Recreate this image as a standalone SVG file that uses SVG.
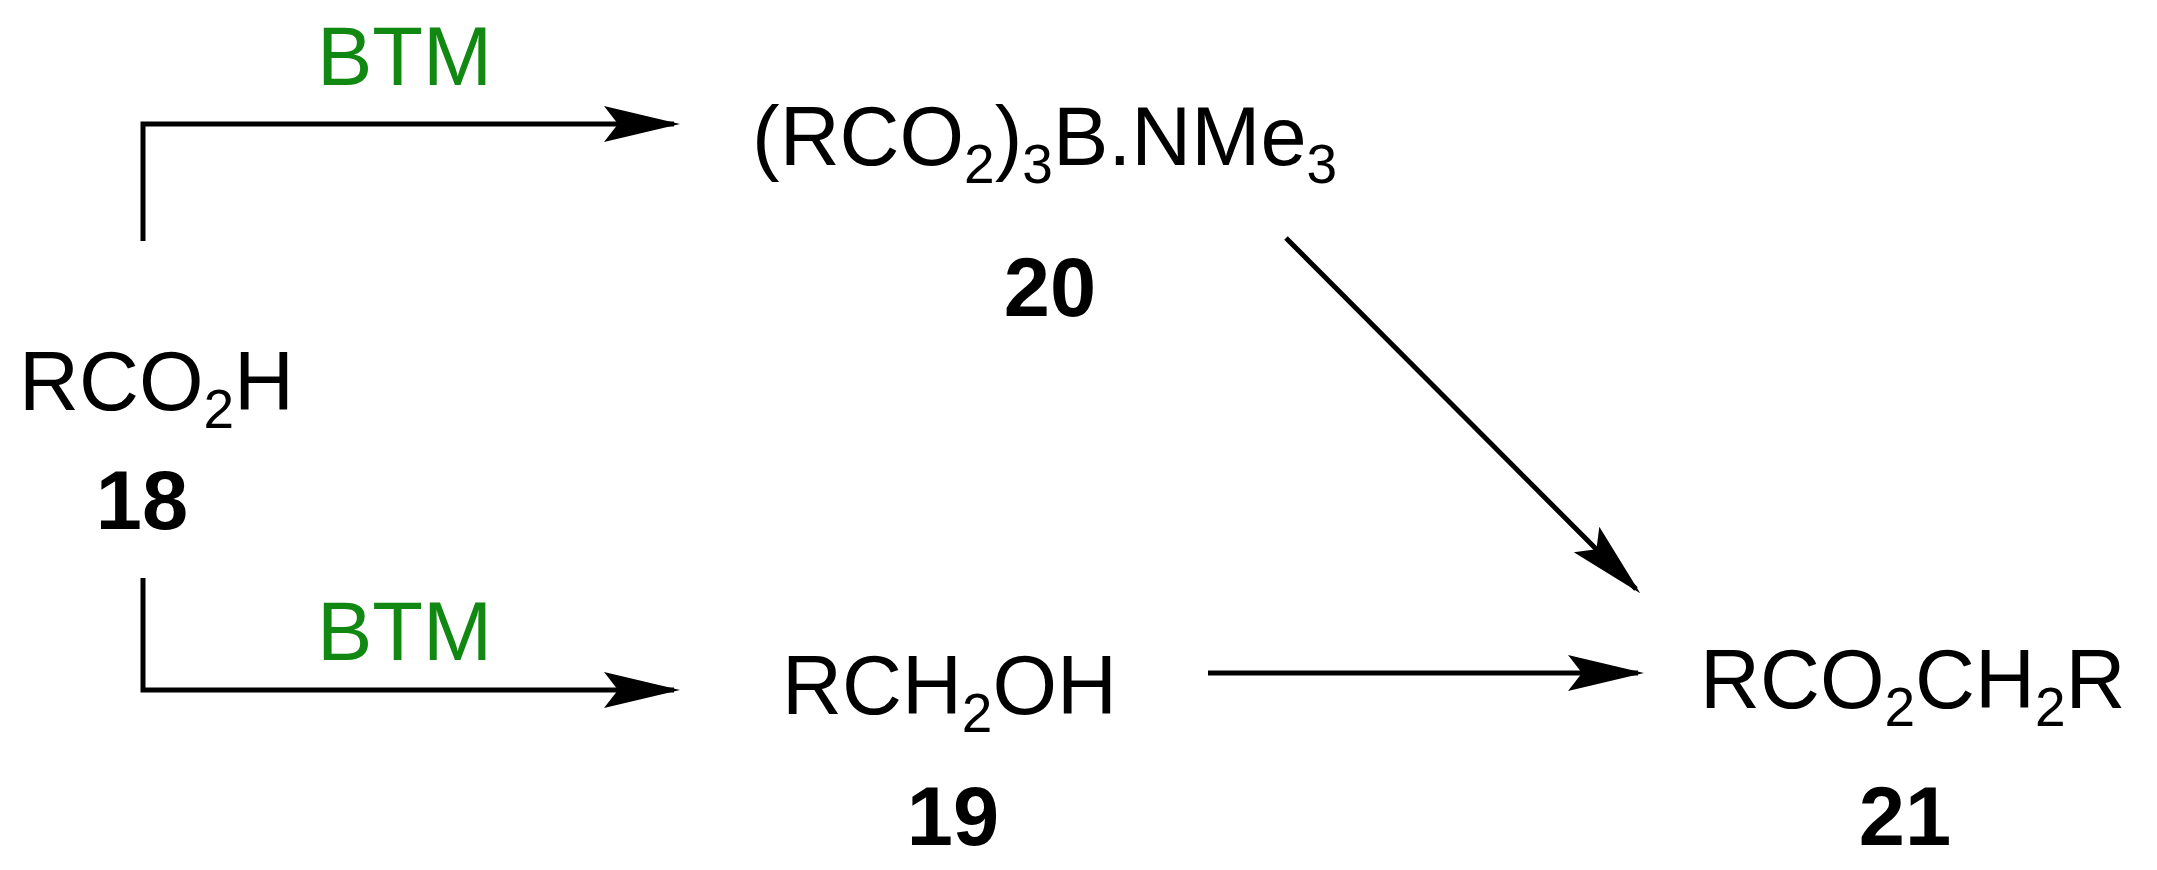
<svg xmlns="http://www.w3.org/2000/svg" width="2157" height="870" viewBox="0 0 2157 870">
<style>
text{font-family:"Liberation Sans",Arial,sans-serif;font-size:83px;fill:#000}
.g{fill:#118811}
.b{font-weight:bold;text-anchor:middle}
.s{font-size:55px}
.c{fill:none;stroke:#000;stroke-width:5}
</style>
<defs>
<marker id="ah" markerUnits="userSpaceOnUse" markerWidth="80" markerHeight="40" refX="70" refY="18" orient="auto">
<path d="M0,0 L76,18 L0,36 L14,18 Z" fill="#000"/>
</marker>
</defs>
<rect width="2157" height="870" fill="#fff"/>
<g id="connectors">
<path class="c" d="M143,241 V124 H674" marker-end="url(#ah)"/>
<path class="c" d="M143,578 V690 H674" marker-end="url(#ah)"/>
<path class="c" d="M1208,673 H1638" marker-end="url(#ah)"/>
<path class="c" d="M1286,238 L1636,589" marker-end="url(#ah)"/>
<text class="g" x="317" y="85">BTM</text>
<text class="g" x="317" y="660">BTM</text>
</g>
<g id="n18">
<text x="19" y="410">RCO<tspan class="s" dy="18">2</tspan><tspan dy="-18">H</tspan></text>
<text class="b" x="142" y="529">18</text>
</g>
<g id="n20">
<text x="752" y="165">(RCO<tspan class="s" dy="18">2</tspan><tspan dy="-18">)</tspan><tspan class="s" dy="18">3</tspan><tspan dy="-18">B.NMe</tspan><tspan class="s" dy="18">3</tspan></text>
<text class="b" x="1050" y="316">20</text>
</g>
<g id="n19">
<text x="782" y="714">RCH<tspan class="s" dy="18">2</tspan><tspan dy="-18">OH</tspan></text>
<text class="b" x="953" y="845">19</text>
</g>
<g id="n21">
<text x="1700" y="708">RCO<tspan class="s" dy="18">2</tspan><tspan dy="-18">CH</tspan><tspan class="s" dy="18">2</tspan><tspan dy="-18">R</tspan></text>
<text class="b" x="1905" y="845">21</text>
</g>
</svg>
